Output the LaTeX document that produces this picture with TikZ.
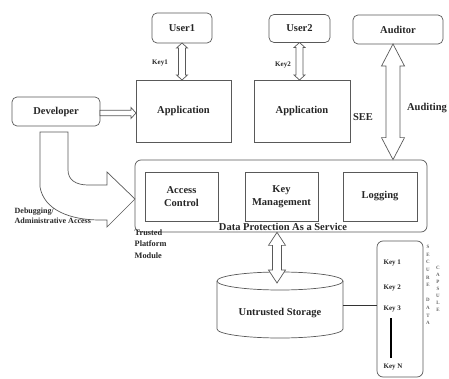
\documentclass[tikz,border=0pt]{standalone}
\usepackage{fontspec}
\setmainfont{Liberation Serif}
\usetikzlibrary{calc}
\definecolor{lc}{gray}{0.35}
\definecolor{tc}{gray}{0.15}
\begin{document}
\begin{tikzpicture}[x=1pt,y=-1pt,
  line width=0.7pt,
  lbl/.style={font=\fontsize{10.5}{12.5}\selectfont\bfseries, text=tc},
  small/.style={font=\fontsize{8.3}{10}\selectfont\bfseries, text=tc, align=left},
  tiny/.style={font=\fontsize{7}{8}\selectfont\bfseries, text=tc},
  letter/.style={font=\fontsize{5}{6}\selectfont\bfseries, text=black!60, inner sep=0pt},
  rbox/.style={draw=lc, rounded corners=5pt, inner sep=0pt, outer sep=0pt, lbl, align=center},
  sbox/.style={draw=lc, inner sep=0pt, outer sep=0pt, lbl, align=center},
  body/.style={draw=lc, fill=white, line join=miter},
  vdarr/.style n args={3}{body, to path={let \p1=(\tikztostart), \p2=(\tikztotarget) in
     (\x1,\y1) -- (\x1+#2pt,\y1-#3pt) -- (\x1+#1pt,\y1-#3pt) -- (\x1+#1pt,\y2+#3pt) -- (\x1+#2pt,\y2+#3pt) -- (\x1,\y2) -- (\x1-#2pt,\y2+#3pt) -- (\x1-#1pt,\y2+#3pt) -- (\x1-#1pt,\y1-#3pt) -- (\x1-#2pt,\y1-#3pt) -- cycle}},
  hsarr/.style n args={3}{body, to path={let \p1=(\tikztostart), \p2=(\tikztotarget) in
     (\x1,\y1+#1pt) -- (\x2-#3pt,\y1+#1pt) -- (\x2-#3pt,\y1+#2pt) -- (\x2,\y1) -- (\x2-#3pt,\y1-#2pt) -- (\x2-#3pt,\y1-#1pt) -- (\x1,\y1-#1pt) -- cycle}},
]
\useasboundingbox (0,0) rectangle (449,379);

% top row
\node[rbox, minimum width=60, minimum height=30] (user1) at (182,28) {User1};
\node[rbox, minimum width=61, minimum height=28] (user2) at (299.5,28.5) {User2};
\node[rbox, minimum width=90, minimum height=29] (aud) at (398,29.5) {Auditor};

% applications
\node[sbox, minimum width=95, minimum height=62] (app1) at (183.5,111) {Application};
\node[sbox, minimum width=96, minimum height=62] (app2) at (302,111) {Application};
\node[rbox, minimum width=88, minimum height=29] (dev) at (56,111.5) {Developer};

\node[lbl] (see) at (363,117) {SEE};
\node[lbl] (auditing) at (427,108) {Auditing};
\node[tiny] (k1) at (160,63) {Key1};
\node[tiny] (k2) at (283,65) {Key2};

% data protection as a service
\node[draw=lc, rounded corners=6pt, inner sep=0pt, minimum width=292, minimum height=72] (dp) at (281,196) {};
\node[sbox, minimum width=73, minimum height=49] (ac) at (181.5,196.5) {Access\\Control};
\node[sbox, minimum width=73, minimum height=49] (km) at (281.5,196.5) {Key\\Management};
\node[sbox, minimum width=74, minimum height=49] (log) at (380,196.5) {Logging};
\node[lbl] (dpl) at (283,226.5) {Data Protection As a Service};

\node[small, anchor=west, font=\fontsize{8.3}{11.5}\selectfont\bfseries] (tpm) at (131,244) {Trusted\\Platform\\Module};
\node[small, anchor=west, font=\fontsize{8}{10}\selectfont\bfseries] (dbg) at (11,216) {Debugging/\\Administrative Access};

% arrows
\draw[vdarr={3.5}{5.5}{5}] (user1.south) to (app1.north);
\draw[vdarr={3.5}{5.5}{5}] (user2.south) to (app2.north);
\draw[vdarr={7}{11.5}{22}] ($(aud.south)+(-5,0)$) to (dp.north);
\coordinate (stortop) at (277,283);
\draw[hsarr={2.7}{5.5}{5}] ($(dev.east)+(0,1.5)$) to ($(app1.west)+(0,1.5)$);

% curved developer arrow
\draw[body] (40,132) -- (68,132) -- (68,170) .. controls (68,180) and (76,185) .. (88,185)
  -- (107,185) -- (107,172) -- (135,199) -- (107,227) -- (107,220) -- (100,220)
  .. controls (70,220) and (44,210) .. (40,187) -- cycle;

% untrusted storage cylinder
\draw[draw=lc] (217,281) -- (217,329) arc[start angle=180, end angle=360, x radius=63pt, y radius=9pt] -- (343,281);
\draw[draw=lc, fill=white] (280,281) ellipse[x radius=63pt, y radius=9pt];
\node[lbl] (stor) at (280,313) {Untrusted Storage};
\coordinate (storR) at (343,305);
\draw[vdarr={4.5}{8.5}{13}] ($(dp.south)+(-4,0)$) to (stortop);

% key capsule
\node[draw=lc, rounded corners=6pt, inner sep=0pt, minimum width=46, minimum height=136] (cap) at (400,309) {};
\draw[draw=black!80, line width=0.9pt] (storR) -- (cap.west |- storR);
\node[tiny, anchor=west] (key1) at (380,263) {Key 1};
\node[tiny, anchor=west] (key2) at (380,288) {Key 2};
\node[tiny, anchor=west] (key3) at (380,309) {Key 3};
\node[tiny, anchor=west] (keyn) at (380,367) {Key N};
\draw[black, line width=2.6pt] (391,318) -- (391,358);

\foreach \ch [count=\i from 0] in {S,E,C,U,R,E,{},D,A,T,A}
  \node[letter] (sd\i) at (428,247+7.6*\i) {\ch};
\foreach \ch [count=\i from 0] in {C,A,P,S,U,L,E}
  \node[letter] (cp\i) at (438,268+7*\i) {\ch};
\end{tikzpicture}
\end{document}
